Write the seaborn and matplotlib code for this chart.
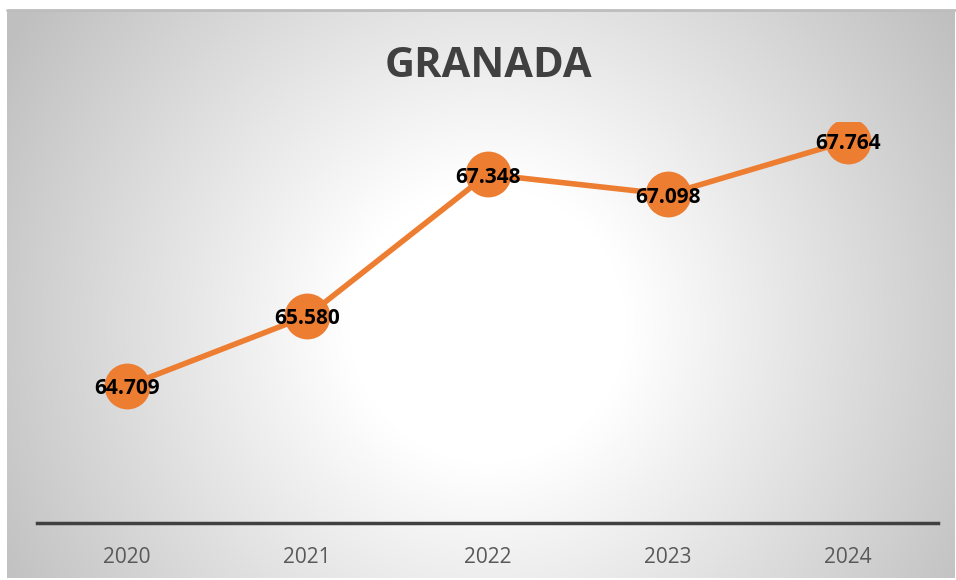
import numpy as np
import pandas as pd
import matplotlib
matplotlib.use("Agg")
import matplotlib.pyplot as plt
import seaborn as sns

years = ["2020", "2021", "2022", "2023", "2024"]
values = [64709, 65580, 67348, 67098, 67764]
labels = ["64.709", "65.580", "67.348", "67.098", "67.764"]
title = "GRANADA"

sns.set_theme(style="white")
plt.rcParams["font.family"] = ["Open Sans", "DejaVu Sans"]

W, H = 956, 580
fig = plt.figure(figsize=(W / 100, H / 100), dpi=100)
fig.patch.set_facecolor("white")

# background with radial gradient
bg = fig.add_axes([7 / W, 2 / H, 948 / W, 568 / H])
bg.set_axis_off()
nx, ny = 474, 284
xx, yy = np.meshgrid(np.linspace(0, 948, nx), np.linspace(0, 568, ny))
cx, cy = 481, 315
r = np.sqrt((xx - cx) ** 2 + (yy - cy) ** 2)
t = np.clip((r - 140) / 420, 0, 1)
c = 255 - 64 * t
img = np.dstack([c, c, c]) / 255.0
bg.imshow(img, extent=[0, 1, 0, 1], aspect="auto", origin="upper", zorder=0)
bg.plot([0, 1], [1, 1], color="#bdbdbd", lw=2, transform=bg.transAxes, clip_on=False)

ax = fig.add_axes([37 / W, 57 / H, 901 / W, 401 / H])
ax.patch.set_alpha(0)
df = pd.DataFrame({"year": years, "value": values})
sns.lineplot(data=df, x="year", y="value", ax=ax, color="#ED7D31", lw=4,
             marker="o", markersize=33, markeredgewidth=0, sort=False)
ax.set_xlim(-0.5, 4.5)
ax.set_ylim(63000, 68000)
ax.set_yticks([])
ax.set_xlabel("")
ax.set_ylabel("")
for s in ["top", "left", "right"]:
    ax.spines[s].set_visible(False)
ax.spines["bottom"].set_color("#404040")
ax.spines["bottom"].set_linewidth(2.5)
ax.tick_params(axis="x", length=0, pad=17, labelsize=15, labelcolor="#595959")
for i, (v, lab) in enumerate(zip(values, labels)):
    ax.annotate(lab, (i, v), xytext=(0, -2), textcoords="offset points",
                ha="center", va="center", fontsize=15,
                fontweight="bold", color="black", zorder=5)

fig.text(488 / W, 1 - 77 / H, title, ha="center", va="baseline", fontsize=30,
         fontweight="bold", color="#404040")

fig.savefig("out.png", dpi=100)
